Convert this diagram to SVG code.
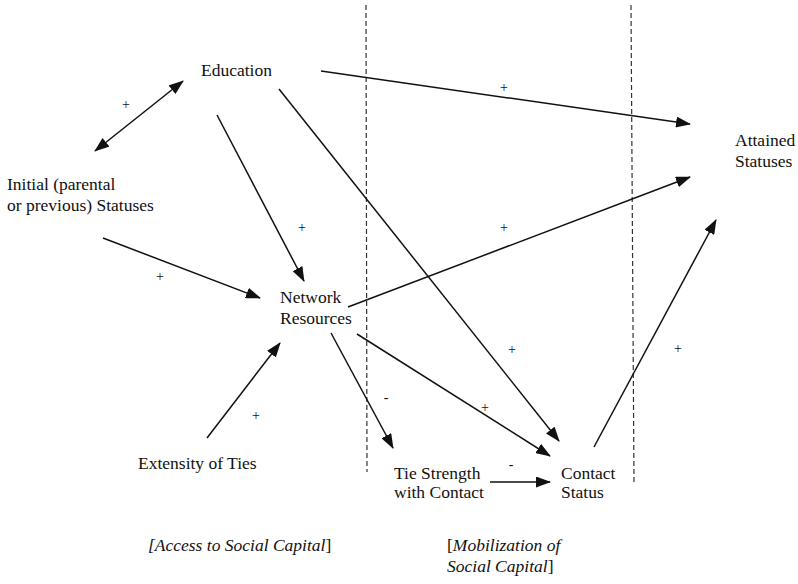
<svg xmlns="http://www.w3.org/2000/svg" width="798" height="584" viewBox="0 0 798 584" font-family="'Liberation Serif', 'DejaVu Serif', serif">
<style>
text{font-family:'Liberation Serif','DejaVu Serif',serif;font-size:17.5px;fill:#111}
.it{font-style:italic}
.sg{font-size:14px}
.c line{stroke:#111;stroke-width:1.5;fill:none}
.dash{stroke:#333;stroke-width:1.2;stroke-dasharray:5,3}
</style>
<defs>
<marker id="ah" markerUnits="userSpaceOnUse" markerWidth="15" markerHeight="11" refX="14" refY="5.5" orient="auto-start-reverse" viewBox="0 0 15 11">
<path d="M0,0 L15,5.5 L0,11 Z" fill="#111"/>
</marker>
</defs>
<rect width="798" height="584" fill="#fff"/>
<g id="dividers">
<line class="dash" x1="366" y1="5" x2="367" y2="472"/>
<line class="dash" x1="631" y1="5" x2="634" y2="484"/>
</g>
<g id="connectors" class="c">
<line x1="95" y1="151" x2="183" y2="81" marker-start="url(#ah)" marker-end="url(#ah)"/>
<line x1="321" y1="71" x2="690" y2="124" marker-end="url(#ah)"/>
<line x1="217" y1="115" x2="304" y2="281" marker-end="url(#ah)"/>
<line x1="279" y1="89" x2="559" y2="441" marker-end="url(#ah)"/>
<line x1="103" y1="238" x2="260" y2="298" marker-end="url(#ah)"/>
<line x1="348" y1="307" x2="690" y2="177" marker-end="url(#ah)"/>
<line x1="207" y1="438" x2="280" y2="343" marker-end="url(#ah)"/>
<line x1="331" y1="333" x2="393" y2="448" marker-end="url(#ah)"/>
<line x1="357" y1="334" x2="550" y2="456" marker-end="url(#ah)"/>
<line x1="490" y1="482" x2="550" y2="482" marker-end="url(#ah)"/>
<line x1="594" y1="447" x2="716" y2="220" marker-end="url(#ah)"/>
</g>
<g id="signs">
<text class="sg" x="126" y="109" text-anchor="middle">+</text>
<text class="sg" x="302" y="232" text-anchor="middle">+</text>
<text class="sg" x="160" y="281" text-anchor="middle">+</text>
<text class="sg" x="504" y="92" text-anchor="middle">+</text>
<text class="sg" x="504" y="232" text-anchor="middle">+</text>
<text class="sg" x="512" y="354" text-anchor="middle">+</text>
<text class="sg" x="485" y="412" text-anchor="middle">+</text>
<text class="sg" x="678" y="353" text-anchor="middle">+</text>
<text class="sg" x="256" y="420" text-anchor="middle">+</text>
<text class="sg" x="386" y="402" text-anchor="middle">-</text>
<text class="sg" x="511" y="469" text-anchor="middle">-</text>
</g>
<g id="education"><text x="201" y="76">Education</text></g>
<g id="attained"><text x="735" y="146">Attained</text><text x="735" y="167">Statuses</text></g>
<g id="initial"><text x="7" y="190">Initial (parental</text><text x="7" y="211">or previous) Statuses</text></g>
<g id="network"><text x="280" y="303">Network</text><text x="280" y="324">Resources</text></g>
<g id="extensity"><text x="138" y="469">Extensity of Ties</text></g>
<g id="tie"><text x="394" y="479">Tie Strength</text><text x="394" y="498">with Contact</text></g>
<g id="contact"><text x="561" y="479">Contact</text><text x="561" y="498">Status</text></g>
<g id="access"><text x="148" y="551"><tspan class="it">[Access to Social Capital</tspan>]</text></g>
<g id="mobilization"><text x="447" y="551">[<tspan class="it">Mobilization of</tspan></text><text x="447" y="572"><tspan class="it">Social Capital</tspan>]</text></g>
</svg>
